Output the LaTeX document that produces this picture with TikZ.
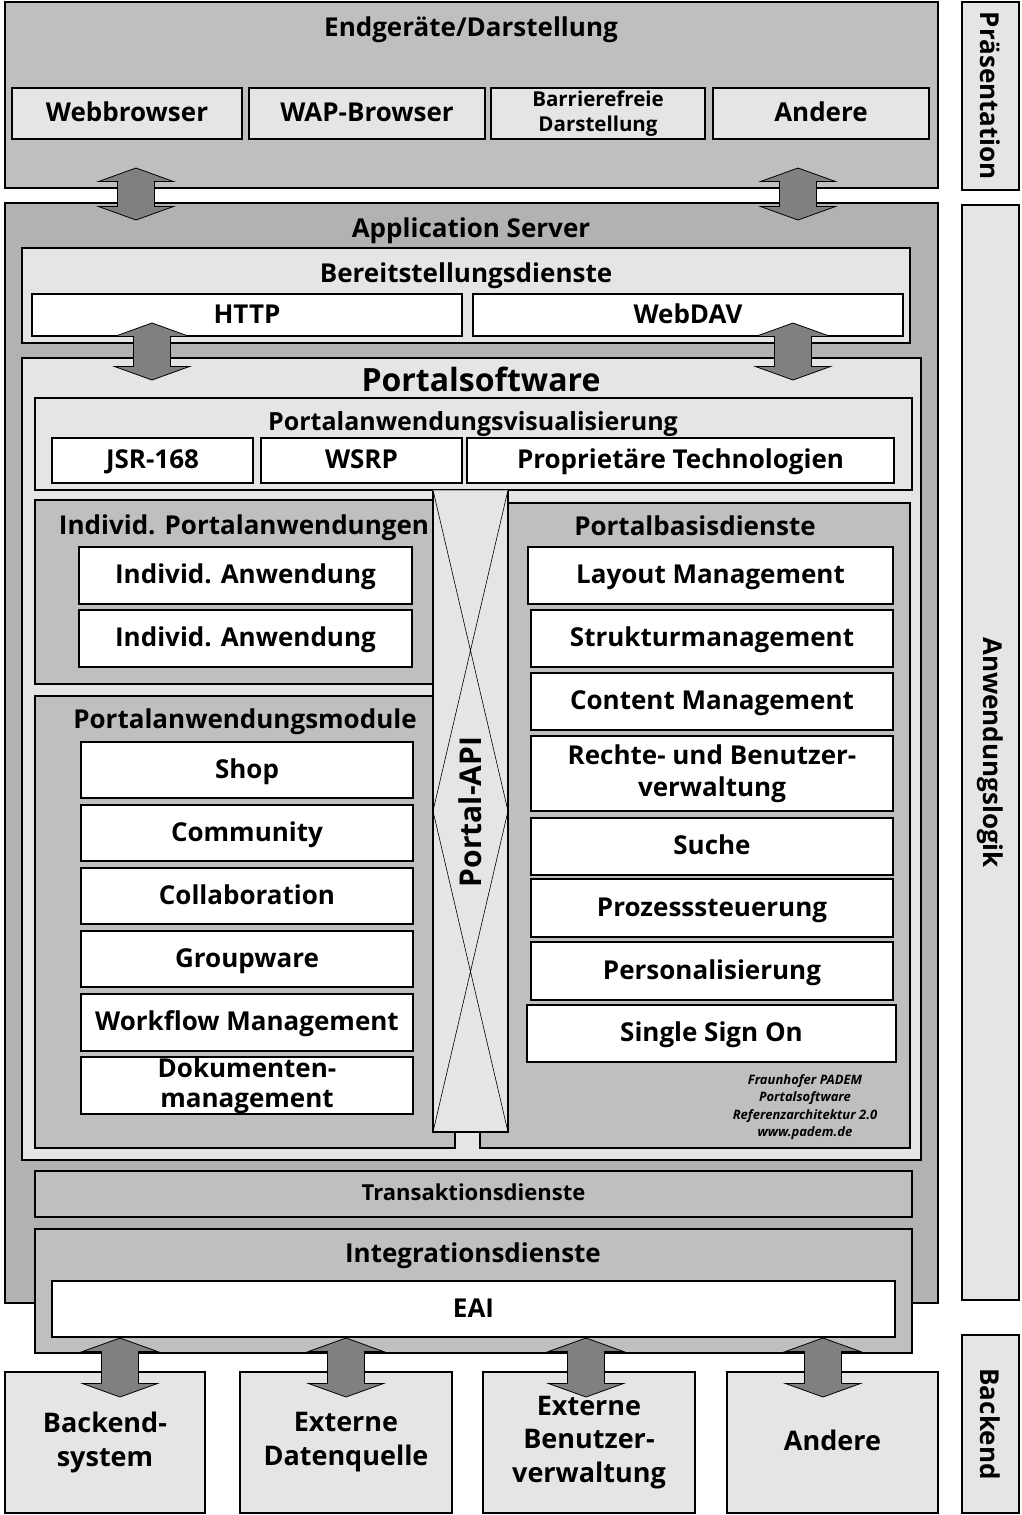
\documentclass[tikz,border=0pt]{standalone}
\usepackage{fontspec}
\setmainfont{Open Sans}
\definecolor{cPale}{gray}{0.90}
\definecolor{cMid}{gray}{0.75}
\definecolor{cDark}{gray}{0.70}
\definecolor{cArrow}{gray}{0.50}
\definecolor{cEdge}{gray}{0.65}

% box with explicit corners: name, x1, y1, x2, y2, style, text
\newcommand{\bx}[7]{\node[#6, anchor=north west, minimum width={(#4)-(#2)}, minimum height={(#5)-(#3)}] (#1) at (#2,#3) {#7};}
% vertical block arrow with two heads: x, top y, bottom y
\newcommand{\dblarrow}[3]{\draw[blockarrow] (#1,#2) -- ++(37.5,13.5) -- ++(-19,0) -- (#1+18.5,#3-13.5) -- ++(19,0) -- (#1,#3) -- ++(-37.5,-13.5) -- ++(19,0) -- (#1-18.5,#2+13.5) -- ++(-19,0) -- cycle;}

\tikzset{
  frame/.style={draw=black, line width=1.5pt, inner sep=0pt, outer sep=0pt, align=center,
                text height=20.5pt, text depth=4.5pt,
                font=\bfseries\fontsize{26}{31}\selectfont},
  multiline/.style={text height=, text depth=},
  pale/.style={frame, fill=cPale},
  midgray/.style={frame, fill=cMid},
  darkgray/.style={frame, fill=cDark},
  plain/.style={frame, fill=white},
  ttl/.style={inner sep=0pt, font=\bfseries\fontsize{26}{31}\selectfont, anchor=base},
  sidelbl/.style={inner sep=0pt, font=\bfseries\fontsize{26}{31}\selectfont, rotate=-90},
  blockarrow/.style={draw=black, line width=0.8pt, fill=cArrow, line join=miter},
}

\begin{document}
\begin{tikzpicture}[x=1pt, y=-1pt]
\useasboundingbox (0,0) rectangle (1021,1515);

% ---------- presentation tier ----------
\bx{endg}{5}{2}{938}{188}{midgray}{}
\node[ttl] (endgT) at (471,36) {Endgeräte/Darstellung};
\bx{web}{12}{88}{242}{139}{pale}{Webbrowser}
\bx{wap}{249}{88}{485}{139}{pale}{WAP-Browser}
\bx{barr}{491}{88}{705}{139}{pale, multiline, font=\bfseries\fontsize{20.5}{25}\selectfont}{Barrierefreie\\Darstellung}
\bx{andereT}{713}{88}{929}{139}{pale}{Andere}

% ---------- tier labels on the right ----------
\bx{praes}{962}{2}{1019}{190}{pale}{}
\node[sidelbl] (praesT) at (praes.center) {Präsentation};
\bx{anwl}{962}{205}{1019}{1300}{pale}{}
\node[sidelbl] (anwlT) at (anwl.center) {Anwendungslogik};
\bx{backl}{962}{1335}{1019}{1513}{pale}{}
\node[sidelbl] (backlT) at (backl.center) {Backend};

% ---------- application server ----------
\bx{appsrv}{5}{203}{938}{1303}{darkgray}{}
\node[ttl] (appsrvT) at (471,237) {Application Server};

\bx{bereit}{22}{248}{910}{343}{pale}{}
\node[ttl] (bereitT) at (466,282) {Bereitstellungsdienste};
\bx{http}{32}{294}{462}{336}{plain}{HTTP}
\bx{webdav}{473}{294}{903}{336}{plain}{WebDAV}

% ---------- portal software ----------
\bx{portal}{22}{358}{921}{1160}{pale}{}
\node[ttl, font=\bfseries\fontsize{32}{38}\selectfont] (portalT) at (481,391) {Portalsoftware};

\bx{visu}{35}{398}{912}{490}{pale}{}
\node[ttl, font=\bfseries\fontsize{25}{30}\selectfont] (visuT) at (473,430) {Portalanwendungsvisualisierung};
\bx{jsr}{52}{438}{253}{483}{plain}{JSR-168}
\bx{wsrp}{261}{438}{462}{483}{plain}{WSRP}
\bx{propr}{467}{438}{894}{483}{plain}{Proprietäre Technologien}

% individual portal applications
\bx{indiv}{35}{500}{455}{684}{midgray}{}
\node[ttl] (indivT) at (244,534) {Individ. Portalanwendungen};
\bx{ia1}{79}{547}{412}{604}{plain}{Individ. Anwendung}
\bx{ia2}{79}{610}{412}{667}{plain}{Individ. Anwendung}

% portal application modules
\bx{module}{35}{696}{455}{1148}{midgray}{}
\node[ttl] (moduleT) at (245,728) {Portalanwendungsmodule};
\bx{shop}{81}{742}{413}{798}{plain}{Shop}
\bx{comm}{81}{805}{413}{861}{plain}{Community}
\bx{collab}{81}{868}{413}{924}{plain}{Collaboration}
\bx{groupw}{81}{931}{413}{987}{plain}{Groupware}
\bx{wfm}{81}{994}{413}{1051}{plain}{Workflow Management}
\bx{dms}{81}{1057}{413}{1114}{plain, multiline, font=\bfseries\fontsize{26}{30}\selectfont}{Dokumenten-\\management}

% portal base services
\bx{basis}{480}{503}{910}{1148}{midgray}{}
\node[ttl] (basisT) at (695,535) {Portalbasisdienste};
\bx{layout}{528}{547}{893}{604}{plain}{Layout Management}
\bx{struktur}{531}{610}{893}{667}{plain}{Strukturmanagement}
\bx{content}{531}{673}{893}{730}{plain}{Content Management}
\bx{rechte}{531}{736}{893}{811}{plain, multiline, font=\bfseries\fontsize{26}{32}\selectfont}{Rechte- und Benutzer-\\verwaltung}
\bx{suche}{531}{818}{893}{875}{plain}{Suche}
\bx{prozess}{531}{879}{893}{937}{plain}{Prozesssteuerung}
\bx{personal}{531}{942}{893}{1000}{plain}{Personalisierung}
\bx{sso}{527}{1005}{896}{1062}{plain}{Single Sign On}
\node[inner sep=0pt, align=center, font=\bfseries\itshape\fontsize{13}{17.5}\selectfont] (credit) at (805,1107)
  {Fraunhofer PADEM\\Portalsoftware\\Referenzarchitektur 2.0\\www.padem.de};

% portal API column with its two crossed halves
\node[fill=cPale, draw=none, inner sep=0pt, outer sep=0pt, anchor=north west,
      minimum width=75, minimum height=642] (api) at (433,490) {};
\draw[line width=0.6pt] (api.north west) -- (api.east) (api.north east) -- (api.west)
                        (api.west) -- (api.south east) (api.east) -- (api.south west);
\draw[line width=1.5pt] (api.north west) -- (api.south west) -- (api.south east) -- (api.north east);
\draw[line width=0.8pt, cEdge] (api.north west) -- (api.north east);
\node[inner sep=0pt, rotate=90, font=\bfseries\fontsize{30}{36}\selectfont] (apiT) at (470,812) {Portal-API};

% ---------- transaction and integration services ----------
\bx{trans}{35}{1171}{912}{1217}{midgray, text height=16pt, text depth=4pt, font=\bfseries\fontsize{22}{26}\selectfont}{Transaktionsdienste}
\bx{integ}{35}{1229}{912}{1353}{midgray}{}
\node[ttl] (integT) at (473,1262) {Integrationsdienste};
\bx{eai}{52}{1281}{895}{1337}{plain}{EAI}

% ---------- backend tier ----------
\bx{be1}{5}{1372}{205}{1513}{pale, multiline, font=\bfseries\fontsize{27}{34}\selectfont}{Backend-\\system}
\bx{be2}{240}{1372}{452}{1513}{pale, multiline, font=\bfseries\fontsize{27}{34}\selectfont}{Externe\\Datenquelle}
\bx{be3}{483}{1372}{695}{1513}{pale, multiline, font=\bfseries\fontsize{27}{33.5}\selectfont}{Externe\\Benutzer-\\verwaltung}
\bx{be4}{727}{1372}{938}{1513}{pale, font=\bfseries\fontsize{27}{33}\selectfont}{Andere}

% ---------- block arrows between tiers ----------
\dblarrow{136}{168}{220}
\dblarrow{798}{168}{220}
\dblarrow{152}{323}{380}
\dblarrow{793}{323}{380}
\dblarrow{120}{1338}{1397}
\dblarrow{346}{1338}{1397}
\dblarrow{586}{1338}{1397}
\dblarrow{823}{1338}{1397}
\end{tikzpicture}
\end{document}
